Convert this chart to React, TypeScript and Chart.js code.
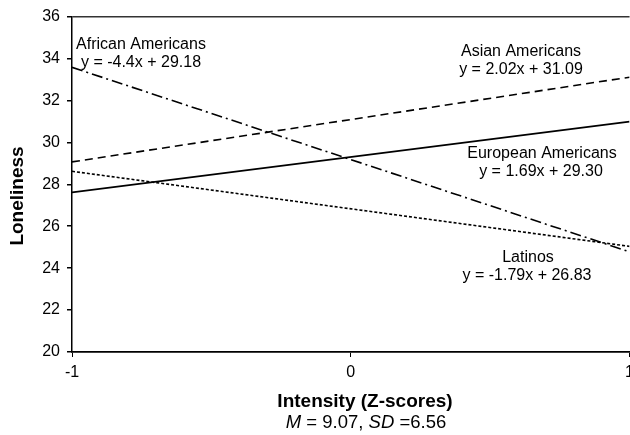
import React, { useEffect, useRef } from "react";
import { Chart, registerables } from "chart.js";

Chart.register(...registerables);

const xValues = [-1, 1];
const africanAmericans = [33.58, 24.78];
const asianAmericans = [29.07, 33.11];
const europeanAmericans = [27.61, 30.99];
const latinos = [28.62, 25.04];
const yTicks = [20, 22, 24, 26, 28, 30, 32, 34, 36];
const xTicks = [-1, 0, 1];

const FONT = "'Liberation Sans', Arial, sans-serif";

const labelsPlugin = {
  id: "labelsPlugin",
  afterDraw(chart: any) {
    const ctx = chart.ctx;
    ctx.save();
    ctx.fillStyle = "#000";
    ctx.textAlign = "center";
    ctx.textBaseline = "middle";
    ctx.font = `16px ${FONT}`;
    const notes: [string, number, number][] = [
      ["African Americans", 141, 45],
      ["y = -4.4x + 29.18", 141, 63],
      ["Asian Americans", 521, 52],
      ["y = 2.02x + 31.09", 521, 70],
      ["European Americans", 542, 154],
      ["y = 1.69x + 29.30", 541, 172],
      ["Latinos", 528, 258],
      ["y = -1.79x + 26.83", 527, 276],
    ];
    notes.forEach(([t, x, y]) => ctx.fillText(t, x, y));

    // y axis title
    ctx.save();
    ctx.translate(18, 196);
    ctx.rotate(-Math.PI / 2);
    ctx.font = `bold 19px ${FONT}`;
    ctx.fillText("Loneliness", 0, 0);
    ctx.restore();

    // x axis title
    ctx.font = `bold 19px ${FONT}`;
    ctx.fillText("Intensity (Z-scores)", 365, 402);

    // subtitle with italics
    const parts: [string, boolean][] = [
      ["M", true],
      [" = 9.07, ", false],
      ["SD", true],
      [" =6.56", false],
    ];
    let total = 0;
    parts.forEach(([t, it]) => {
      ctx.font = `${it ? "italic " : ""}18.5px ${FONT}`;
      total += ctx.measureText(t).width;
    });
    let x = 366 - total / 2;
    ctx.textAlign = "left";
    parts.forEach(([t, it]) => {
      ctx.font = `${it ? "italic " : ""}18.5px ${FONT}`;
      ctx.fillText(t, x, 423);
      x += ctx.measureText(t).width;
    });
    ctx.restore();
  },
};

export default function App() {
  const ref = useRef<HTMLCanvasElement | null>(null);
  useEffect(() => {
    if (!ref.current) return;
    const mk = (label: string, vals: number[], dash: number[], w: number) => ({
      label,
      data: xValues.map((x, i) => ({ x, y: vals[i] })),
      borderColor: "#000",
      borderWidth: w,
      borderDash: dash,
      pointRadius: 0,
      fill: false,
      tension: 0,
    });
    const chart = new Chart(ref.current, {
      type: "line",
      data: {
        datasets: [
          mk("African Americans", africanAmericans, [11, 4, 2, 4], 1.6),
          mk("Asian Americans", asianAmericans, [8, 5], 1.6),
          mk("European Americans", europeanAmericans, [], 1.8),
          mk("Latinos", latinos, [3, 2], 1.6),
        ],
      },
      options: {
        animation: false,
        responsive: false,
        maintainAspectRatio: false,
        layout: { padding: { left: 0, top: 16, right: 10, bottom: 0 } },
        plugins: {
          legend: { display: false },
          tooltip: { enabled: false },
          title: { display: false },
        },
        scales: {
          x: {
            type: "linear",
            min: -1,
            max: 1,
            afterFit: (s: any) => {
              s.height = 83;
            },
            afterBuildTicks: (s: any) => {
              s.ticks = xTicks.map((v) => ({ value: v }));
            },
            border: { color: "#000", width: 1.8 },
            grid: {
              drawOnChartArea: false,
              tickLength: 5,
              tickColor: "#000",
              color: "#000",
            },
            ticks: {
              color: "#000",
              font: { size: 16, family: FONT },
              padding: 6,
              maxRotation: 0,
            },
          },
          y: {
            type: "linear",
            min: 20,
            max: 36,
            afterFit: (s: any) => {
              s.width = 72;
            },
            afterBuildTicks: (s: any) => {
              s.ticks = yTicks.map((v) => ({ value: v }));
            },
            border: { color: "#000", width: 1.5 },
            grid: {
              drawOnChartArea: true,
              color: (c: any) => (c.tick && c.tick.value === 36 ? "#333" : "rgba(0,0,0,0)"),
              tickColor: "#000",
              tickLength: 5,
              lineWidth: 1.5,
            },
            ticks: {
              color: "#000",
              font: { size: 16, family: FONT },
              padding: 7,
            },
          },
        },
      },
      plugins: [labelsPlugin],
    });
    return () => chart.destroy();
  }, []);
  return (
    <div style={{ position: "fixed", left: 0, top: 0, width: 640, height: 435, background: "#fff" }}>
      <canvas ref={ref} width={640} height={435} style={{ width: 640, height: 435 }} />
    </div>
  );
}
